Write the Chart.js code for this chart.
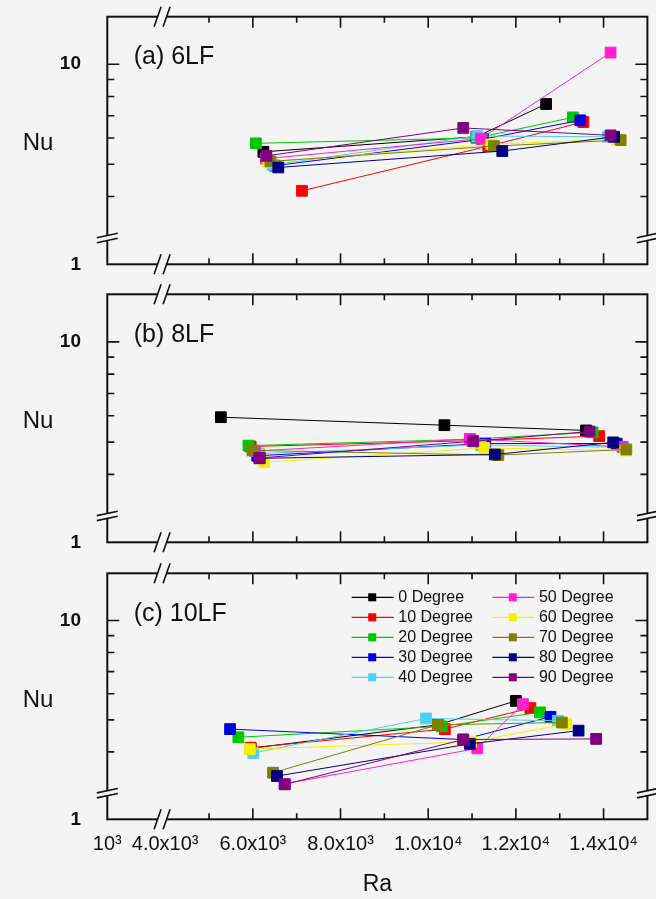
<!DOCTYPE html>
<html>
<head>
<meta charset="utf-8">
<title>Nu vs Ra</title>
<script src="https://cdn.jsdelivr.net/npm/chart.js@4/dist/chart.umd.min.js"></script>
<style>
  body { margin: 0; background: #f4f4f4; }
  #wrap { position: relative; width: 656px; height: 899px; }
  #wrap canvas { position: absolute; left: 0; }
</style>
</head>
<body>
<div id="wrap">
  <canvas id="lf6" width="656" height="280" style="top:0px"></canvas>
  <canvas id="lf8" width="656" height="280" style="top:280px"></canvas>
  <canvas id="lf10" width="656" height="339" style="top:560px"></canvas>
</div>
<script>
// inclination angles, one series each
const angleLabels = ['0 Degree', '10 Degree', '20 Degree', '30 Degree', '40 Degree',
                     '50 Degree', '60 Degree', '70 Degree', '80 Degree', '90 Degree'];
const angleColors = ['#000000', '#ff0000', '#00c800', '#0000e0', '#4cd2f0',
                     '#ff1ed2', '#f5f000', '#808000', '#000080', '#800080'];

// 6 louvered fins: Ra and Nu, three heat inputs per angle
const ra6LF = [
  [6240, 11100, 12690], [7120, 11370, 13540], [6070, 11100, 13300], [6500, 11250, 13470],
  [6450, 11120, 14100], [6300, 11200, 14160], [6350, 11440, 14300], [6400, 11500, 14390],
  [6580, 11690, 14240], [6310, 10800, 14160]
];
const nu6LF = [
  [5.45, 6.05, 7.59], [4.16, 5.67, 6.70], [5.78, 6.00, 6.92], [4.95, 5.95, 6.78],
  [4.98, 6.08, 6.05], [5.20, 5.97, 10.84], [5.08, 5.74, 5.95], [5.10, 5.67, 5.91],
  [4.89, 5.48, 6.05], [5.30, 6.43, 6.11]
];

// 8 louvered fins
const ra8LF = [
  [5270, 10370, 13600], [5950, 11000, 13900], [5900, 10950, 13750], [6100, 11300, 14300],
  [6150, 11200, 14450], [6050, 10950, 14430], [6260, 11280, 14500], [5990, 11600, 14520],
  [6150, 11520, 14220], [6160, 11030, 13680]
];
const nu8LF = [
  [5.94, 5.62, 5.42], [4.85, 5.05, 5.21], [4.88, 5.10, 5.35], [4.55, 4.95, 4.95],
  [4.62, 4.90, 4.82], [4.70, 5.11, 4.84], [4.35, 4.80, 4.72], [4.72, 4.57, 4.75],
  [4.47, 4.59, 4.99], [4.48, 5.03, 5.38]
];

// 10 louvered fins
const ra10LF = [
  [5950, 10220, 12000], [5950, 10380, 12330], [5670, 10310, 12550], [5480, 10800, 12790],
  [6010, 9950, 12960], [6720, 11120, 12160], [5930, 10980, 13140], [6460, 10220, 13050],
  [6550, 10950, 13430], [6730, 10800, 13830]
];
const nu10LF = [
  [4.10, 4.83, 5.71], [4.12, 4.69, 5.43], [4.43, 4.78, 5.27], [4.69, 4.36, 5.11],
  [3.97, 5.05, 4.97], [3.20, 4.10, 5.58], [4.08, 4.29, 4.86], [3.46, 4.83, 4.91],
  [3.38, 4.23, 4.64], [3.19, 4.36, 4.38]
];

// broken x axis: 10^3 sits at the left end, the break just before 4000
const raMin = 2680, raMax = 15000, raBreak = 3930;
const raTicks = [2680, 4000, 6000, 8000, 10000, 12000, 14000];
const raTickLabels = ['10³', '4.0x10³', '6.0x10³', '8.0x10³', '1.0x10⁴', '1.2x10⁴', '1.4x10⁴'];
const raMajor = [6000, 8000, 10000, 12000, 14000];
const raMinor = [5000, 7000, 9000, 11000, 13000];

// broken log y axis: "1" sits at the bottom, the break at 3
const nuMin = 2.5, nuMax = 13.9, nuBreak = 3;
const nuTicks = [2.5, 10];
const nuTickLabels = ['1', '10'];
const nuMinor = [4, 5, 6, 7, 8, 9];

const FONT = '"Liberation Sans", Arial, Helvetica, sans-serif';
const BG = '#f4f4f4';
const INK = '#111';

// frame, inward ticks, break marks, panel caption, Nu label and legend
const axisFrame = {
  id: 'axisFrame',
  afterDraw(chart, args, opts) {
    const ctx = chart.ctx;
    const a = chart.chartArea;
    const xs = chart.scales.x, ys = chart.scales.y;
    ctx.save();
    ctx.strokeStyle = INK;
    ctx.lineWidth = 1.6;

    ctx.beginPath();
    nuMinor.forEach(v => {
      const py = ys.getPixelForValue(v);
      ctx.moveTo(a.left, py); ctx.lineTo(a.left + 7, py);
      ctx.moveTo(a.right, py); ctx.lineTo(a.right - 7, py);
    });
    const p10 = ys.getPixelForValue(10);
    ctx.moveTo(a.left, p10); ctx.lineTo(a.left + 12, p10);
    ctx.moveTo(a.right, p10); ctx.lineTo(a.right - 12, p10);
    raMajor.forEach(v => {
      const px = xs.getPixelForValue(v);
      ctx.moveTo(px, a.bottom); ctx.lineTo(px, a.bottom - 11);
      ctx.moveTo(px, a.top); ctx.lineTo(px, a.top + 11);
    });
    raMinor.forEach(v => {
      const px = xs.getPixelForValue(v);
      ctx.moveTo(px, a.bottom); ctx.lineTo(px, a.bottom - 6);
      ctx.moveTo(px, a.top); ctx.lineTo(px, a.top + 6);
    });
    ctx.stroke();

    ctx.lineWidth = 2;
    ctx.strokeRect(a.left, a.top, a.right - a.left, a.bottom - a.top);

    // axis breaks
    const bx = xs.getPixelForValue(raBreak);
    const by = ys.getPixelForValue(nuBreak);
    ctx.fillStyle = BG;
    ctx.lineWidth = 1.6;
    [a.top, a.bottom].forEach(yy => {
      ctx.fillRect(bx - 4, yy - 2, 8, 4);
      ctx.beginPath();
      [-4.5, 4.5].forEach(d => {
        ctx.moveTo(bx + d - 3.5, yy + 10);
        ctx.lineTo(bx + d + 3.5, yy - 10);
      });
      ctx.stroke();
    });
    [a.left, a.right].forEach(xx => {
      ctx.fillRect(xx - 2, by - 2, 4, 4);
      ctx.beginPath();
      [-2.5, 2.5].forEach(d => {
        ctx.moveTo(xx - 10.5, by + d + 2.2);
        ctx.lineTo(xx + 10.5, by + d - 2.2);
      });
      ctx.stroke();
    });

    ctx.fillStyle = INK;
    ctx.textBaseline = 'middle';
    ctx.textAlign = 'left';
    ctx.font = '25px ' + FONT;
    ctx.fillText(opts.caption, a.left + 26.4, a.top + 40.8);
    ctx.textAlign = 'center';
    ctx.font = '24px ' + FONT;
    ctx.fillText('Nu', 38, a.top + 127);

    if (opts.legend) {
      ctx.font = '16px ' + FONT;
      ctx.textAlign = 'left';
      chart.data.datasets.forEach((ds, i) => {
        const lx = a.left + 244.4 + Math.floor(i / 5) * 140.6;
        const ly = a.top + 24 + (i % 5) * 20;
        ctx.strokeStyle = ds.borderColor;
        ctx.lineWidth = 1.2;
        ctx.beginPath();
        ctx.moveTo(lx, ly); ctx.lineTo(lx + 42, ly);
        ctx.stroke();
        ctx.fillStyle = ds.backgroundColor;
        ctx.fillRect(lx + 16.5, ly - 4, 8, 8);
        ctx.fillStyle = INK;
        ctx.fillText(ds.label, lx + 46.6, ly);
      });
    }
    ctx.restore();
  }
};

function makePanel(id, caption, ra, nu, plotTop, plotBottom, bottomAxis) {
  const canvas = document.getElementById(id);
  const datasets = angleLabels.map((label, i) => ({
    label: label,
    data: ra[i].map((r, k) => ({ x: r, y: nu[i][k] })),
    showLine: true,
    borderColor: angleColors[i],
    backgroundColor: angleColors[i],
    borderWidth: 1,
    pointStyle: 'rect',
    pointRadius: 7.6,
    pointBorderWidth: 1,
    pointBorderColor: angleColors[i],
    pointBackgroundColor: angleColors[i],
    order: angleLabels.length - 1 - i
  }));

  new Chart(canvas, {
    type: 'scatter',
    data: { datasets: datasets },
    plugins: [axisFrame],
    options: {
      responsive: false,
      animation: false,
      events: [],
      layout: { padding: { top: plotTop, right: 6.7, left: 0, bottom: 0 } },
      plugins: {
        legend: { display: false },
        tooltip: { enabled: false },
        axisFrame: { caption: caption, legend: bottomAxis }
      },
      scales: {
        x: {
          type: 'linear',
          min: raMin,
          max: raMax,
          afterBuildTicks: s => { s.ticks = raTicks.map(v => ({ value: v })); },
          afterFit: s => {
            s.height = canvas.height - plotBottom;
            s.paddingLeft = 0; s.paddingRight = 0;
          },
          grid: { display: false, drawTicks: false },
          border: { display: false },
          ticks: {
            display: bottomAxis,
            autoSkip: false,
            maxRotation: 0,
            padding: 13,
            color: INK,
            font: { family: FONT, size: 20 },
            callback: (v, idx) => raTickLabels[idx]
          },
          title: {
            display: bottomAxis,
            text: 'Ra',
            color: INK,
            font: { family: FONT, size: 23 },
            padding: { top: 0, bottom: 1 }
          }
        },
        y: {
          type: 'logarithmic',
          min: nuMin,
          max: nuMax,
          afterBuildTicks: s => { s.ticks = nuTicks.map(v => ({ value: v })); },
          afterFit: s => {
            s.width = 107.3;
            s.paddingTop = 0; s.paddingBottom = 0;
          },
          grid: { display: false, drawTicks: false },
          border: { display: false },
          ticks: {
            autoSkip: false,
            padding: 26.3,
            color: INK,
            font: { family: FONT, size: 19, weight: 'bold' },
            callback: (v, idx) => nuTickLabels[idx]
          }
        }
      }
    }
  });
}

makePanel('lf6', '(a) 6LF', ra6LF, nu6LF, 16.7, 264.3, false);
makePanel('lf8', '(b) 8LF', ra8LF, nu8LF, 14.3, 262.3, false);
makePanel('lf10', '(c) 10LF', ra10LF, nu10LF, 13.3, 259.3, true);
</script>
</body>
</html>
